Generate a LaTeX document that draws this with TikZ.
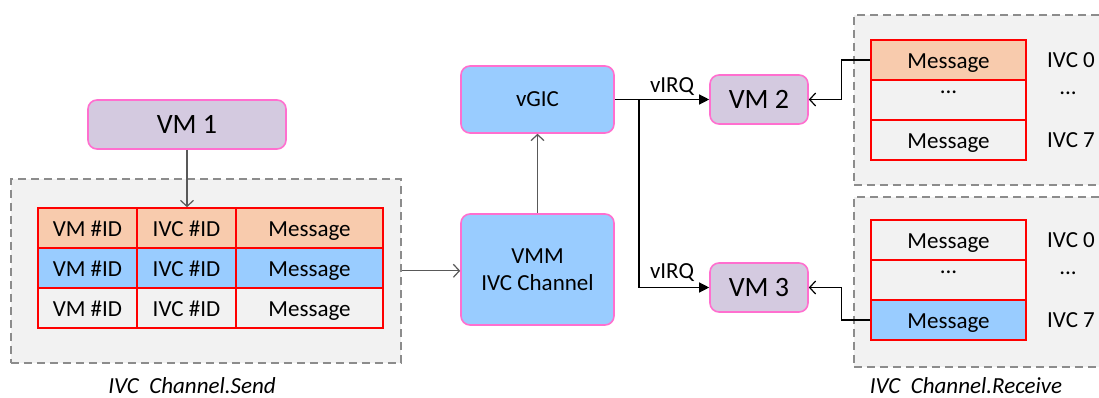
\documentclass[tikz,border=0pt]{standalone}
\usepackage{fontspec}
\setmainfont{Carlito}
\usetikzlibrary{arrows.meta}
\definecolor{peach}{HTML}{F8CBAD}
\definecolor{sky}{HTML}{99CCFF}
\definecolor{lav}{HTML}{D4CAE0}
\definecolor{pinkb}{HTML}{FF6FCF}
\definecolor{panel}{HTML}{F2F2F2}
\definecolor{dashg}{HTML}{8C8C8C}
\definecolor{arrg}{HTML}{595959}
\begin{document}
\begin{tikzpicture}[x=1pt,y=-1pt,
  every node/.style={font=\fontsize{23}{27}\selectfont, inner sep=0pt},
  panelbox/.style={draw=dashg, fill=panel, dash pattern=on 8pt off 5pt, line width=1.6pt, anchor=north west},
  cell/.style={draw=red, line width=1.6pt, minimum height=40pt, text height=20pt, text depth=2.6pt},
  vmbox/.style={draw=pinkb, fill=lav, rounded corners=9pt, line width=1.6pt, font=\fontsize{28}{32}\selectfont, minimum height=49pt},
  hvbox/.style={draw=pinkb, fill=sky, rounded corners=9pt, line width=1.6pt, align=center, minimum width=153pt},
  garrow/.style={draw=arrg, line width=1.2pt, -{Straight Barb[length=6pt,width=13pt]}},
  karrow/.style={draw=black, line width=1.2pt, -{Straight Barb[length=6pt,width=13pt]}},
  barrow/.style={draw=black, line width=1.2pt, -{Triangle[length=10pt,width=10pt]}},
  caption/.style={font=\fontsize{23}{27}\selectfont\itshape}
]
\useasboundingbox (0,0) rectangle (1099,398);
\fill[white] (0,0) rectangle (1099,398);

% panels
\node[panelbox, minimum width=390pt, minimum height=184pt] (sendp) at (10,178) {};
\node[panelbox, minimum width=252pt, minimum height=170pt] (recp1) at (853,14) {};
\node[panelbox, minimum width=252pt, minimum height=170pt] (recp2) at (853,196) {};

% VM nodes
\node[vmbox, minimum width=198pt] (vm1) at (187,124.5) {VM 1};
\node[vmbox, minimum width=98pt] (vm2) at (759,99.5) {VM 2};
\node[vmbox, minimum width=98pt] (vm3) at (759,287.5) {VM 3};

% hypervisor nodes
\node[hvbox, minimum height=67pt] (vgic) at (537.5,99.5) {vGIC};
\node[hvbox, minimum height=111pt] (vmm) at (537.5,269.5) {VMM\\IVC Channel};

% send table
\node[cell, fill=peach, minimum width=99pt] (a11) at (87.5,228) {VM \#ID};
\node[cell, fill=peach, minimum width=99pt] (a12) at (186.5,228) {IVC \#ID};
\node[cell, fill=peach, minimum width=147pt] (a13) at (309.5,228) {Message};
\node[cell, fill=sky, minimum width=99pt] (a21) at (87.5,268) {VM \#ID};
\node[cell, fill=sky, minimum width=99pt] (a22) at (186.5,268) {IVC \#ID};
\node[cell, fill=sky, minimum width=147pt] (a23) at (309.5,268) {Message};
\node[cell, fill=panel, minimum width=99pt] (a31) at (87.5,308) {VM \#ID};
\node[cell, fill=panel, minimum width=99pt] (a32) at (186.5,308) {IVC \#ID};
\node[cell, fill=panel, minimum width=147pt] (a33) at (309.5,308) {Message};

% receive tables
\node[cell, fill=peach, minimum width=155pt] (m1) at (948.5,60) {Message};
\node[cell, fill=panel, minimum width=155pt] (m2) at (948.5,100) {\raisebox{15pt}{...}};
\node[cell, fill=panel, minimum width=155pt] (m3) at (948.5,140) {Message};
\node[cell, fill=panel, minimum width=155pt] (n1) at (948.5,240) {Message};
\node[cell, fill=panel, minimum width=155pt] (n2) at (948.5,280) {\raisebox{15pt}{...}};
\node[cell, fill=sky, minimum width=155pt] (n3) at (948.5,320) {Message};

\node (l1) at (1071,60) {IVC 0};
\node (l2) at (1068,93) {...};
\node (l3) at (1071,140) {IVC 7};
\node (k1) at (1071,240) {IVC 0};
\node (k2) at (1068,273) {...};
\node (k3) at (1071,320) {IVC 7};

% connectors
\draw[garrow] (vm1.south) -- (vm1.south |- a12.north);
\draw[garrow] (sendp.east) -- (vmm.west |- sendp.east);
\draw[garrow] (vmm.north) -- (vgic.south);
\coordinate (br) at (639,99.5);
\draw[barrow] (vgic.east) -- (vm2.west);
\draw[barrow] (br) |- (vm3.west);
\node (irq1) at (672,87) {vIRQ};
\node (irq2) at (672,273) {vIRQ};
\draw[karrow] (m1.west) -- ++(-29,0) |- (vm2.east);
\draw[karrow] (n3.west) -- ++(-29,0) |- (vm3.east);

% captions
\node[caption] (cap1) at (192,386) {IVC~~Channel.Send};
\node[caption] (cap2) at (966,386) {IVC~~Channel.Receive};
\end{tikzpicture}
\end{document}
